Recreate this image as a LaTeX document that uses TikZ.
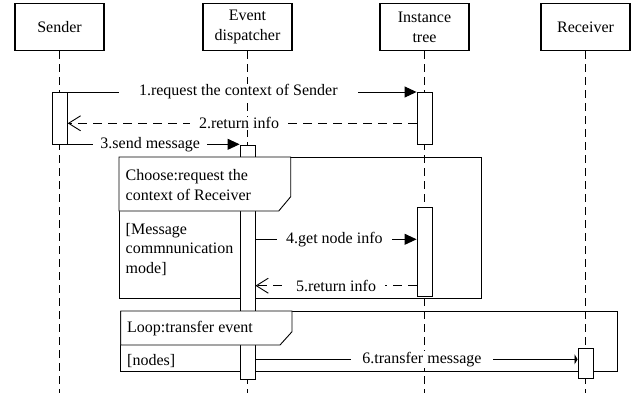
\documentclass[tikz,border=0pt]{standalone}
\usepackage{fontspec}
\setmainfont{Liberation Serif}
\usetikzlibrary{arrows.meta}
\begin{document}
\begin{tikzpicture}[x=1pt,y=-1pt,
  txt/.style={font=\fontsize{16}{19.8}\selectfont},
  actor/.style={txt, draw, line width=1.2pt, minimum width=89pt, minimum height=47pt, align=center, inner sep=0pt},
  life/.style={dash pattern=on 8pt off 5pt, line width=0.8pt},
  actbox/.style={draw, fill=white, line width=0.9pt, minimum width=15pt, inner sep=0pt},
  frameline/.style={draw, line width=0.9pt},
  msg/.style={line width=0.9pt},
  reply/.style={line width=0.9pt, dash pattern=on 9pt off 6pt},
  lbl/.style={txt, fill=white, inner xsep=9pt, inner ysep=1pt},
  fill tip/.style={-{Triangle[length=12pt,width=11pt]}},
  open tip/.style={-{Straight Barb[length=12pt,width=15pt,line width=0.9pt]}}
]
\useasboundingbox (0,0) rectangle (636,394);
% actors
\node[actor] (s) at (59.5,27.3) {Sender};
\node[actor] (e) at (247.5,27.3) {Event\\dispatcher};
\node[actor] (i) at (424.5,27.3) {Instance\\tree};
\node[actor] (r) at (585.5,27.3) {Receiver};
\coordinate (bot) at (0,393);
% lifelines
\foreach \a in {s,e,i,r} \draw[life] (\a.south) -- (\a.south |- bot);
% frames
\draw[frameline] (119,157) rectangle (481.7,298.3);
\draw[frameline] (120.7,311) rectangle (617.7,371.7);
% activations
\node[actbox, minimum height=52pt] (sa) at (59.8,118.2) {};
\node[actbox, minimum height=52pt] (ia1) at (424.5,118.2) {};
\node[actbox, minimum height=234pt] (ea) at (247.5,262) {};
\node[actbox, minimum height=89pt] (ia2) at (424.5,251.5) {};
\node[actbox, minimum height=30pt] (ra) at (585.5,363) {};
% frame headers
\draw[frameline, fill=white] (119,157) -- (290.7,157) -- (290.7,196.7) -- (278.7,211) -- (119,211) -- cycle;
\draw[frameline, fill=white] (120.7,311) -- (292,311) -- (292,331.7) -- (280,345) -- (120.7,345) -- cycle;
\node[txt, align=left, anchor=west, inner sep=0pt] (ch) at (125.5,185) {Choose:request the\\context of Receiver};
\node[txt, align=left, anchor=west, inner sep=0pt] (cg) at (125.5,249.5) {[Message\\commnunication\\mode]};
\node[txt, align=left, anchor=west, inner sep=0pt] (lp) at (127,328.5) {Loop:transfer event};
\node[txt, align=left, anchor=west, inner sep=0pt] (lg) at (127,361.5) {[nodes]};
% message levels
\coordinate (y1) at (0,92);
\coordinate (y2) at (0,123.3);
\coordinate (y3) at (0,144.3);
\coordinate (y4) at (0,239.3);
\coordinate (y5) at (0,285.7);
\coordinate (y6) at (0,359.3);
% messages
\draw[msg, fill tip] (sa.east |- y1) -- (ia1.west |- y1)
  node[lbl, pos=0.489, inner xsep=20pt] (m1) {1.request the context of Sender};
\draw[reply, open tip] (ia1.west |- y2) -- (sa.east |- y2)
  node[lbl, pos=0.509] (m2) {2.return info};
\draw[msg, fill tip] (sa.east |- y3) -- (ea.west |- y3)
  node[lbl, pos=0.48, inner xsep=7pt] (m3) {3.send message};
\draw[msg, fill tip] (ea.east |- y4) -- (ia2.west |- y4)
  node[lbl, pos=0.49] (m4) {4.get node info};
\draw[reply, open tip] (ia2.west |- y5) -- (ea.east |- y5)
  node[lbl, pos=0.5] (m5) {5.return info};
\draw[msg, -{Triangle[length=3pt,width=10pt]}] (ea.east |- y6) -- (ra.west |- y6)
  node[lbl, pos=0.517, inner xsep=11pt] (m6) {6.transfer message};
\end{tikzpicture}
\end{document}
